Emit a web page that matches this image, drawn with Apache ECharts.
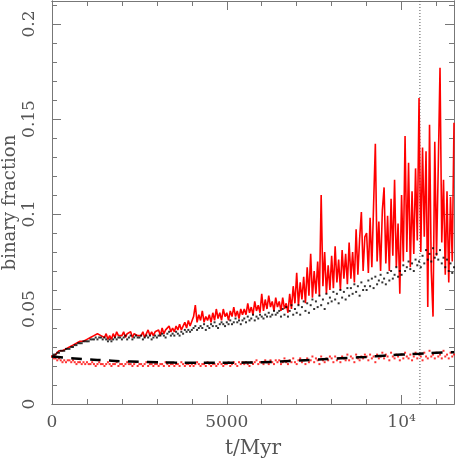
<!DOCTYPE html>
<html><head><meta charset="utf-8">
<script src="https://cdn.jsdelivr.net/npm/echarts@6/dist/echarts.min.js"></script>
<style>html,body{margin:0;padding:0;background:#fff}#c{width:458px;height:458px}</style>
</head><body><div id="c"></div>
<script>
// time sampling of the noisy series (Myr)
const tStep = 50;
// red solid line: total binary fraction
const redLine = [
0.025,0.026,0.026,0.027,0.028,0.027,0.028,0.029,0.029,0.030,
0.030,0.029,0.031,0.031,0.032,0.031,0.033,0.032,0.033,0.034,
0.034,0.033,0.035,0.034,0.036,0.035,0.037,0.038,0.036,0.037,
0.035,0.037,0.034,0.036,0.034,0.037,0.035,0.038,0.036,0.037,
0.036,0.038,0.035,0.037,0.036,0.038,0.035,0.037,0.038,0.036,
0.037,0.036,0.038,0.035,0.037,0.039,0.036,0.038,0.036,0.038,
0.037,0.039,0.036,0.040,0.037,0.039,0.038,0.041,0.038,0.040,
0.038,0.041,0.039,0.042,0.039,0.041,0.043,0.040,0.044,0.041,
0.042,0.046,0.052,0.043,0.047,0.044,0.049,0.043,0.046,0.044,
0.047,0.043,0.048,0.044,0.050,0.045,0.048,0.044,0.050,0.046,
0.048,0.044,0.049,0.046,0.051,0.046,0.049,0.045,0.050,0.047,
0.050,0.047,0.053,0.048,0.051,0.047,0.054,0.049,0.052,0.048,
0.058,0.049,0.055,0.050,0.057,0.051,0.054,0.049,0.056,0.051,
0.054,0.049,0.056,0.050,0.053,0.048,0.058,0.050,0.062,0.053,
0.069,0.052,0.064,0.055,0.067,0.053,0.072,0.057,0.079,0.056,
0.070,0.058,0.075,0.057,0.110,0.062,0.080,0.058,0.073,0.060,
0.078,0.061,0.083,0.064,0.076,0.060,0.081,0.066,0.079,0.063,
0.085,0.066,0.080,0.064,0.092,0.068,0.087,0.101,0.070,0.088,
0.090,0.069,0.098,0.072,0.105,0.137,0.075,0.096,0.070,0.102,
0.114,0.074,0.099,0.070,0.108,0.078,0.118,0.072,0.095,0.058,
0.110,0.075,0.141,0.080,0.127,0.072,0.112,0.079,0.124,0.086,
0.161,0.080,0.135,0.088,0.133,0.051,0.147,0.070,0.046,0.138,
0.078,0.125,0.177,0.085,0.118,0.068,0.112,0.064,0.109,0.075,
0.148];
// black dots
const blackDots = [
0.025,0.026,0.026,0.027,0.027,0.028,0.028,0.028,0.029,0.029,
0.029,0.030,0.030,0.031,0.031,0.032,0.032,0.032,0.033,0.033,
0.033,0.033,0.034,0.034,0.034,0.035,0.034,0.035,0.035,0.034,
0.035,0.034,0.033,0.034,0.033,0.034,0.035,0.034,0.035,0.035,
0.034,0.035,0.036,0.034,0.035,0.036,0.034,0.035,0.036,0.035,
0.035,0.036,0.034,0.035,0.036,0.035,0.036,0.034,0.035,0.036,
0.035,0.036,0.036,0.037,0.036,0.035,0.037,0.038,0.036,0.037,
0.036,0.038,0.037,0.036,0.038,0.037,0.039,0.038,0.039,0.038,
0.039,0.040,0.041,0.039,0.040,0.041,0.040,0.042,0.039,0.041,
0.040,0.042,0.041,0.043,0.041,0.040,0.042,0.043,0.042,0.041,
0.043,0.042,0.044,0.042,0.043,0.045,0.043,0.044,0.042,0.044,
0.045,0.043,0.046,0.044,0.045,0.047,0.044,0.046,0.045,0.047,
0.046,0.045,0.047,0.046,0.048,0.046,0.047,0.049,0.047,0.048,
0.049,0.046,0.050,0.047,0.051,0.046,0.049,0.052,0.047,0.050,
0.048,0.052,0.047,0.051,0.054,0.049,0.053,0.048,0.052,0.055,
0.050,0.054,0.051,0.057,0.052,0.055,0.050,0.058,0.053,0.056,
0.054,0.059,0.055,0.058,0.053,0.060,0.056,0.059,0.055,0.061,
0.057,0.061,0.058,0.063,0.059,0.062,0.057,0.064,0.060,0.062,
0.060,0.065,0.062,0.066,0.061,0.067,0.063,0.065,0.068,0.064,
0.066,0.063,0.069,0.065,0.070,0.066,0.068,0.072,0.067,0.070,
0.068,0.073,0.070,0.072,0.075,0.071,0.074,0.070,0.076,0.073,
0.075,0.072,0.078,0.074,0.081,0.076,0.079,0.075,0.082,0.077,
0.079,0.076,0.081,0.074,0.077,0.072,0.076,0.070,0.074,0.069,
0.072];
// red dots (low)
const redDots = [
0.025,0.024,0.024,0.023,0.024,0.023,0.022,0.023,0.022,0.023,
0.023,0.022,0.023,0.022,0.021,0.022,0.022,0.021,0.022,0.021,
0.022,0.021,0.021,0.022,0.021,0.020,0.021,0.022,0.021,0.021,
0.020,0.021,0.022,0.021,0.020,0.021,0.021,0.022,0.020,0.021,
0.021,0.020,0.021,0.022,0.021,0.021,0.020,0.021,0.022,0.020,
0.021,0.021,0.020,0.021,0.022,0.020,0.021,0.021,0.020,0.021,
0.021,0.020,0.021,0.021,0.020,0.022,0.021,0.020,0.021,0.021,
0.020,0.021,0.021,0.020,0.022,0.021,0.020,0.021,0.021,0.020,
0.021,0.020,0.021,0.022,0.021,0.020,0.021,0.021,0.020,0.022,
0.021,0.020,0.021,0.021,0.020,0.021,0.022,0.021,0.020,0.021,
0.021,0.022,0.020,0.021,0.022,0.021,0.020,0.022,0.021,0.022,
0.021,0.022,0.021,0.020,0.022,0.021,0.022,0.023,0.021,0.022,
0.022,0.021,0.023,0.022,0.021,0.023,0.022,0.021,0.023,0.022,
0.023,0.021,0.022,0.024,0.022,0.021,0.023,0.022,0.024,0.022,
0.021,0.023,0.024,0.022,0.023,0.021,0.024,0.022,0.023,0.025,
0.022,0.024,0.023,0.021,0.025,0.023,0.022,0.024,0.023,0.025,
0.024,0.022,0.025,0.023,0.024,0.022,0.025,0.024,0.023,0.026,
0.023,0.025,0.024,0.022,0.026,0.024,0.023,0.025,0.024,0.026,
0.025,0.023,0.026,0.024,0.025,0.022,0.026,0.024,0.025,0.027,
0.024,0.026,0.025,0.023,0.027,0.025,0.024,0.026,0.025,0.023,
0.026,0.024,0.027,0.025,0.024,0.026,0.023,0.025,0.027,0.024,
0.026,0.025,0.023,0.027,0.025,0.024,0.028,0.025,0.026,0.024,
0.027,0.025,0.026,0.024,0.028,0.025,0.026,0.024,0.027,0.025,
0.026];
// black dashed smooth line, sampled every 500 Myr
const dashStep = 500;
const blackDash = [0.0250,0.0242,0.0235,0.0230,0.0225,0.0222,0.0220,0.0218,0.0217,0.0217,
0.0217,0.0218,0.0220,0.0223,0.0228,0.0233,0.0238,0.0243,0.0248,0.0254,0.0260,0.0265,0.0270,0.0272];
// vertical dotted marker
const vlineT = 10525;
// axis ranges & ticks
const xMin = 0, xMax = 11500, xMajor = 5000, xMinor = 1000;
const yMin = 0, yMax = 0.2121, yMajor = 0.05, yMinor = 0.01;

const pairs = (arr, step) => arr.map((v, i) => [i * step, v]);

const axisCol = '#777', txtCol = '#555', font = 'DejaVu Serif';
function xAx(pos, interval, len, labels) {
  return {
    type: 'value', position: pos, min: xMin, max: xMax, interval: interval,
    axisLine: {show: true, onZero: false, lineStyle: {color: axisCol, width: 1}},
    axisTick: {show: true, inside: true, length: len, lineStyle: {color: axisCol}},
    splitLine: {show: false},
    axisLabel: labels ? {show: true, margin: 10, color: txtCol, fontFamily: font, fontSize: 17,
      showMaxLabel: false,
      formatter: v => v === 10000 ? '10\u2074' : String(v)} : {show: false},
    name: labels ? 't/Myr' : '', nameLocation: 'middle', nameGap: 35,
    nameTextStyle: {color: txtCol, fontFamily: font, fontSize: 20}
  };
}
function yAx(pos, interval, len, labels) {
  return {
    type: 'value', position: pos, min: yMin, max: yMax, interval: interval,
    axisLine: {show: true, onZero: false, lineStyle: {color: axisCol, width: 1}},
    axisTick: {show: true, inside: true, length: len, lineStyle: {color: axisCol}},
    splitLine: {show: false},
    axisLabel: labels ? {show: true, margin: 14, rotate: 90, color: txtCol, fontFamily: font, fontSize: 17,
      showMaxLabel: false,
      formatter: v => (Math.abs(v / yMajor - Math.round(v / yMajor)) < 1e-6) ? String(+v.toFixed(2)) : ''} : {show: false},
    name: labels ? 'binary fraction' : '', nameLocation: 'middle', nameGap: 33, nameMoveOverlap: false,
    nameTextStyle: {color: txtCol, fontFamily: font, fontSize: 18}
  };
}

const chart = echarts.init(document.getElementById('c'), null, {renderer: 'canvas'});
chart.setOption({
  animation: false,
  backgroundColor: '#fff',
  grid: {left: 52, right: 4, top: 1, bottom: 54, containLabel: false, outerBoundsMode: 'none'},
  xAxis: [xAx('bottom', xMajor, 9, true), xAx('bottom', xMinor, 5, false),
          xAx('top', xMajor, 9, false), xAx('top', xMinor, 5, false)],
  yAxis: [yAx('left', yMajor, 9, true), yAx('left', yMinor, 5, false),
          yAx('right', yMajor, 9, false), yAx('right', yMinor, 5, false)],
  series: [
    {type: 'line', data: [[vlineT, yMin], [vlineT, yMax]], symbol: 'none',
     lineStyle: {color: '#555', width: 1, type: [1, 2]}, silent: true, z: 1},
    {type: 'line', data: pairs(redLine, tStep), symbol: 'none',
     lineStyle: {color: '#ff0000', width: 1.6}, z: 2},
    {type: 'scatter', data: pairs(blackDots, tStep), symbol: 'rect', symbolSize: 2,
     itemStyle: {color: '#000'}, z: 3},
    {type: 'scatter', data: pairs(redDots, tStep), symbol: 'rect', symbolSize: 2,
     itemStyle: {color: '#ff0000'}, z: 3},
    {type: 'line', data: pairs(blackDash, dashStep), symbol: 'none', smooth: true,
     lineStyle: {color: '#000', width: 2.5, type: [11, 8]}, z: 4}
  ]
});
</script></body></html>
